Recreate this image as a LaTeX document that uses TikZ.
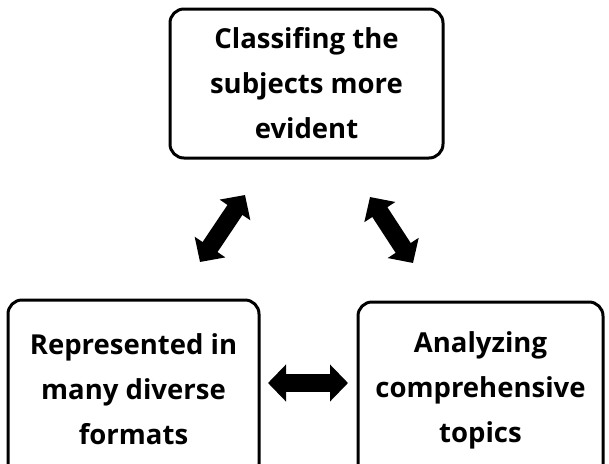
\documentclass[tikz,border=0pt]{standalone}
\usepackage{fontspec}
\setmainfont{Open Sans}
\usetikzlibrary{arrows.meta}
\begin{document}
\begin{tikzpicture}[x=1pt,y=-1pt,
  box/.style={draw, line width=3pt, rounded corners=14pt, align=center,
    font=\bfseries\fontsize{27.5}{45}\selectfont, inner sep=0pt},
  link/.style={line width=18pt, {Triangle[length=18pt,width=36pt]}-{Triangle[length=18pt,width=36pt]}}]
\useasboundingbox (0,0) rectangle (609,463);
\node[box, minimum width=273pt, minimum height=149pt] (top) at (306.5,83.5)
  {Classifing the\\subjects more\\evident};
\node[box, minimum width=251pt, minimum height=178pt] (left) at (133.5,389)
  {Represented in\\many diverse\\formats};
\node[box, minimum width=245pt, minimum height=176pt] (right) at (480.5,390)
  {Analyzing\\comprehensive\\topics};
\coordinate (a1) at (245,195);
\coordinate (a2) at (200,262);
\coordinate (b1) at (370,197);
\coordinate (b2) at (413,263);
\coordinate (c1) at (268,383);
\coordinate (c2) at (348,383);
\draw[link] (a1) -- (a2);
\draw[link] (b1) -- (b2);
\draw[link] (c1) -- (c2);
\end{tikzpicture}
\end{document}
